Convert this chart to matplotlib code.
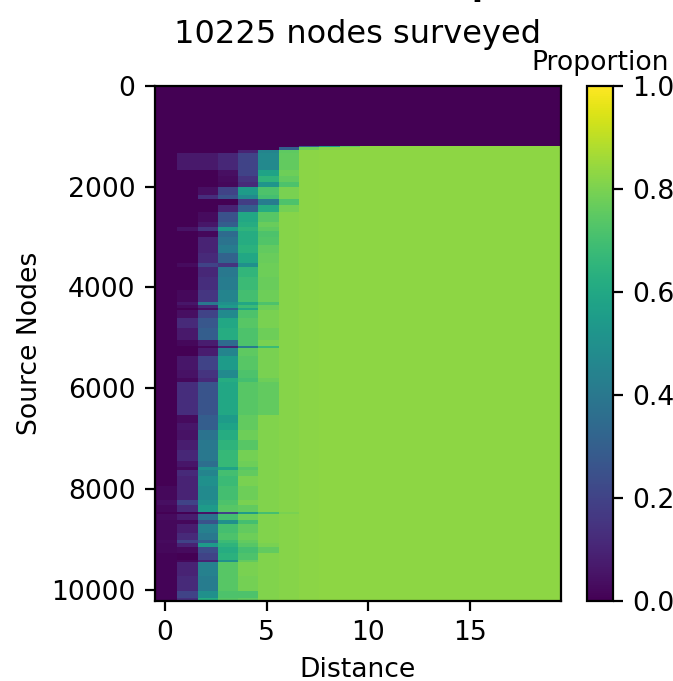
import numpy as np
import matplotlib
matplotlib.use('Agg')
import matplotlib.pyplot as plt

# first source node of each band, then proportion at each distance
row_starts = [0, 1190, 1220, 1270, 1340, 1660, 1780, 1900, 1997, 2163, 2242, 2362, 2495, 2692, 2791, 2877,
              2990, 3155, 3320, 3518, 3598, 3783, 4048, 4280, 4346, 4412, 4445, 4610, 4808, 5040, 5172, 5205,
              5370, 5635, 5800, 5880, 6530, 6695, 6830, 7025, 7225, 7455, 7555, 7620, 7750, 7950, 8215, 8310,
              8450, 8490, 8625, 8690, 8875, 9020, 9075, 9155, 9275, 9405, 9460, 9735, 10035, 10170]
dist_0 = [0] * 45 + [.02, .04, .02, 0, .03, .02, .02, .02, .03, .02, .02, .01, .01, .01, .01, .01, .01]
dist_1 = [0, 0, 0, 0, .07, 0, 0, 0, 0, 0, 0, 0, 0, 0, .05, 0,
          0, 0, 0, .03, 0, 0, .02, .06, .03, 0, .04, .12, .07, .02, 0, 0,
          .06, .05, .02, .13, .03, .06, .05, .08, .11, .06, .03, .12, .10, .10, .20, .12,
          0, .08, .02, .08, .12, .20, .10, .03, 0, .02, .10, .12, .20, .14]
dist_2 = [0, 0, 0, 0, .07, 0, 0, 0, .04, .13, 0, 0, .03, .06, .15, .02,
          .10, .10, .12, .20, .11, .13, .16, .40, .12, .05, .20, .27, .30, .08, .02, .08,
          .20, .15, .12, .26, .30, .30, .38, .40, .40, .36, .50, .45, .50, .48, .50, .55,
          .05, .38, .25, .44, .40, .30, .55, .24, .20, .10, .44, .42, .50, .62]
dist_3 = [0, 0, 0, 0, .11, .04, .03, .02, .20, .25, 0, .10, .25, .30, .55, .35,
          .38, .42, .32, .15, .40, .42, .45, .50, .55, .30, .48, .60, .62, .35, .10, .45,
          .55, .48, .62, .60, .55, .58, .62, .65, .67, .67, .58, .70, .68, .70, .72, .74,
          .20, .70, .50, .70, .72, .68, .65, .62, .64, .50, .74, .74, .72, .74]
dist_4 = [0, 0, 0, .10, .20, .20, .15, .12, .55, .48, .18, .30, .60, .62, .65, .62,
          .62, .64, .60, .50, .66, .68, .70, .60, .68, .60, .72, .74, .72, .72, .42, .75,
          .74, .72, .70, .74, .76, .76, .78, .74, .79, .78, .74, .76, .80, .78, .80, .76,
          .55, .78, .70, .76, .78, .76, .74, .70, .72, .76, .80, .79, .72, .76]
dist_5 = [0, 0, 0, .45, .47, .58, .65, .52, .72, .70, .42, .62, .74, .77, .75, .72,
          .73, .76, .77, .78, .78, .77, .78, .72, .78, .78, .80, .80, .78, .80, .68, .80,
          .80, .80, .78, .76, .81, .81, .81, .81, .81, .81, .81, .81, .81, .81, .81, .81,
          .70, .81, .81, .81, .81, .81, .80, .76, .81, .81, .81, .81, .81, .81]
dist_6 = [0, 0, .30, .75, .76, .78, .76, .72, .80, .80, .72, .79, .82, .82, .82, .82,
          .82, .82, .82, .82, .82, .82, .82, .82, .82, .82, .82, .82, .82, .82, .82, .82,
          .82, .82, .82, .82, .82, .82, .82, .82, .82, .82, .82, .82, .82, .82, .82, .82,
          .80, .82, .82, .82, .82, .82, .82, .82, .82, .82, .82, .82, .82, .82]
dist_7 = [0, .30, .78] + [.825] * 59
dist_8 = [0, .55, .82] + [.83] * 59
dist_9 = [0, .75] + [.83] * 60
dist_rest = [0] + [.83] * 61

n_nodes = 10225
n_dist = 20

columns = [dist_0, dist_1, dist_2, dist_3, dist_4, dist_5, dist_6, dist_7, dist_8, dist_9]
columns += [dist_rest] * (n_dist - len(columns))
bands = np.array(columns).T
counts = np.diff(row_starts + [n_nodes])
matrix = np.repeat(bands, counts, axis=0)

fig = plt.figure(figsize=(6.73 / 2, 6.81 / 2), dpi=200)

ax = fig.add_axes([155 / 673, 1 - 601 / 681, 406 / 673, 515 / 681])
ax.set_facecolor(plt.get_cmap('viridis')(0.0))
# cells sit slightly right of their ticks in the reference
im = ax.imshow(matrix, aspect='auto', cmap='viridis', vmin=0, vmax=1, interpolation='nearest',
               extent=(-0.4, n_dist - 0.4, n_nodes, 0))
ax.set_xlim(-0.5, n_dist - 0.5)
ax.set_ylim(n_nodes, 0)
ax.set_xticks([0, 5, 10, 15])
ax.set_yticks([0, 2000, 4000, 6000, 8000, 10000])
ax.tick_params(labelsize=9.6)
ax.set_xlabel('Distance', fontsize=9.6, labelpad=3.7)
ax.set_ylabel('Source Nodes', fontsize=9.6, labelpad=3)
ax.set_title('10225 nodes surveyed', fontsize=11.5, pad=15.4)

cax = fig.add_axes([587 / 673, 1 - 601 / 681, 26 / 673, 515 / 681])
cb = fig.colorbar(im, cax=cax)
cb.ax.tick_params(labelsize=9.6)
cax.set_title('Proportion', fontsize=9.6, pad=5.8)

# bottom of the upper title line, cut off by the top edge in the reference
fig.text(483 / 673, 1 + 5 / 681, 'p', fontsize=11.5, fontweight='bold', ha='center', va='baseline')

plt.savefig('out.png', dpi=200)
